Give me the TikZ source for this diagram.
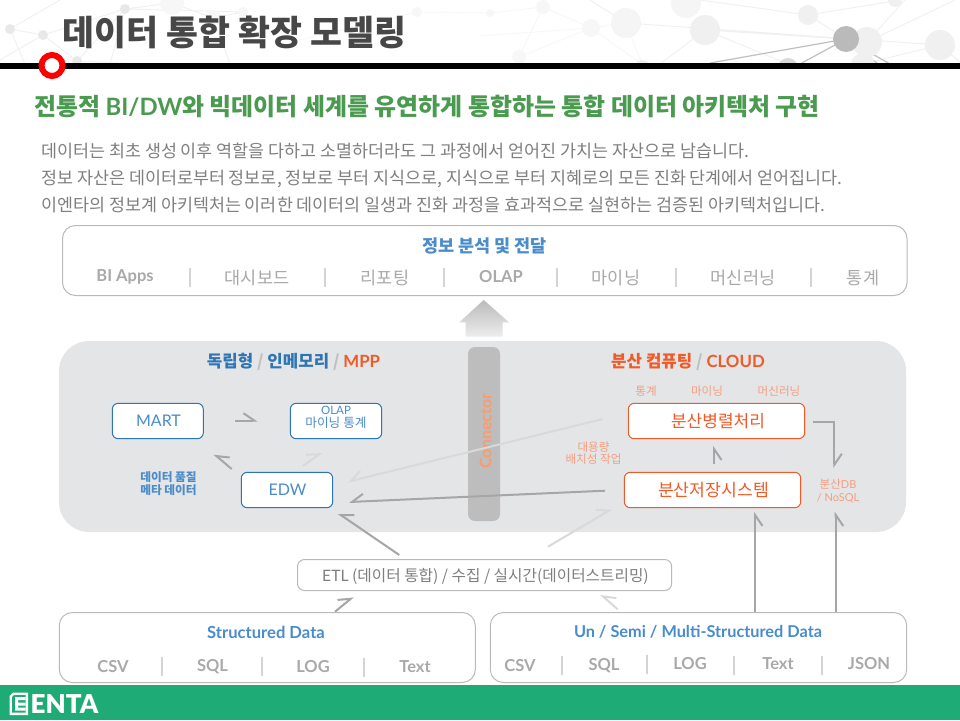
\documentclass[tikz,border=0pt]{standalone}
\usepackage{fontspec}
\setmainfont{Noto Sans CJK KR}
\newfontfamily\lat{Lato}
\newfontfamily\latb{Lato Black}
\usetikzlibrary{arrows.meta,shadings}
\definecolor{blueT}{HTML}{4A8CCB}
\definecolor{blueD}{HTML}{2E75B6}
\definecolor{orgD}{HTML}{F05A28}
\definecolor{orgL}{HTML}{F59E80}
\definecolor{orgC}{HTML}{FA9B70}
\definecolor{grayT}{HTML}{A9A9A9}
\definecolor{grayB}{HTML}{7F7F7F}
\definecolor{panelG}{HTML}{E4E5E7}
\definecolor{arrD}{HTML}{A6A6A6}
\definecolor{arrL}{HTML}{D9D9D9}
\definecolor{greenT}{HTML}{4A9A50}
\definecolor{greenB}{HTML}{1FAB75}
\newcommand{\fs}[1]{\fontsize{#1}{#1}\selectfont}
\tikzset{
  x=1pt,y=-1pt,
  panel/.style={draw=black!27,line width=1pt,rounded corners=13pt,fill=white},
  bluebox/.style={draw=blueD,line width=1pt,rounded corners=6pt,fill=white},
  orgbox/.style={draw=orgD,line width=1pt,rounded corners=6pt,fill=white},
  sep/.style={draw=black!17,line width=2pt},
  lb/.style={inner sep=0pt,anchor=center,align=center},
  item/.style={lb,text=grayT,font=\fs{17.5}},
  itemb/.style={lb,text=grayT,font=\fs{16.5}\lat\bfseries},
  head/.style={lb,text=blueT,font=\fs{17.5}\bfseries},
  small/.style={lb,text=orgL,font=\fs{11.6}},
  body/.style={inner sep=0pt,anchor=base west,text=grayB,font=\fs{17.4}},
  dk/.style={draw=arrD,line width=2pt},
  lt/.style={draw=arrL,line width=2pt},
  tipL/.style={-{Straight Barb[harpoon,length=11pt,width=15pt,line width=2pt]}},
  tipR/.style={-{Straight Barb[harpoon,swap,length=11pt,width=15pt,line width=2pt]}},
  net/.style={draw=black!6,line width=.9pt},
  netd/.style={draw=black!25,line width=1.2pt},
}
\begin{document}
\begin{tikzpicture}
\useasboundingbox (0,0) rectangle (960,720);
\fill[white] (0,0) rectangle (960,720);
% background network
\begin{scope}
\clip (0,0) rectangle (960,64);
\draw[net] (10,29)--(43,35)--(125,9)--(172,3) (43,35)--(77,61)--(125,9) (10,29)--(60,0) (0,60)--(43,35) (10,29)--(25,64) (125,9)--(243,12) (172,3)--(213,18)--(243,12) (77,61)--(140,64) (213,18)--(230,64) (125,9)--(110,64);
\draw[draw=black!3,line width=.8pt] (490,13)--(543,7)--(591,28)--(626,23) (519,57)--(591,28)--(642,64) (480,36)--(591,28) (543,7)--(519,57) (626,23)--(642,64) (300,40)--(417,12)--(490,13);
\draw[net] (626,23)--(940,45) (705,30)--(846,39) (705,30)--(660,64) (705,30)--(788,64) (808,15)--(846,39) (808,15)--(900,0) (867,42)--(905,0) (867,42)--(955,0) (940,45)--(863,64) (940,45)--(960,62) (626,23)--(590,0) (808,15)--(700,0);
\draw[netd] (846,39)--(710,63) (846,39)--(800,64);
\draw[netd] (846,39)--(890,64) (846,39)--(878,64);
\fill[black!9] (10,29) circle (5) (43,35) circle (5) (125,9) circle (5) (77,61) circle (5);
\fill[black!3] (172,3) circle (12) (213,18) circle (8) (243,12) circle (5) (417,12) circle (5) (490,13) circle (4) (543,7) circle (7) (591,28) circle (9) (519,57) circle (7);
\fill[black!4] (626,23) circle (15) (686,3) circle (15);
\fill[black!6] (705,30) circle (15) (808,15) circle (10) (867,42) circle (15) (940,45) circle (15) (863,65) circle (12) (642,68) circle (8) (895,0) circle (7);
\fill[black!15] (788,68) circle (10);
\fill[black!27] (846,39) circle (13);
\end{scope}
% header
\fill[black] (0,63) rectangle (960,69);
\draw[red,line width=6pt,fill=white] (52,65.5) circle (10.5);
\node[lb,text=black!72,font=\fs{34.7}\bfseries] (title) at (234.5,32.5) {데이터 통합 확장 모델링};
\node[lb,text=greenT,font=\fs{23.9}\bfseries] (sub) at (427,106.5) {전통적 {\lat BI/DW}와 빅데이터 세계를 유연하게 통합하는 통합 데이터 아키텍처 구현};
\node[body] (l1) at (41,157) {데이터는 최초 생성 이후 역할을 다하고 소멸하더라도 그 과정에서 얻어진 가치는 자산으로 남습니다.};
\node[body] (l2) at (41,184) {정보 자산은 데이터로부터 정보로, 정보로 부터 지식으로, 지식으로 부터 지혜로의 모든 진화 단계에서 얻어집니다.};
\node[body] (l3) at (41,211) {이엔타의 정보계 아키텍처는 이러한 데이터의 일생과 진화 과정을 효과적으로 실현하는 검증된 아키텍처입니다.};
% top panel
\draw[panel] (62.5,225.5) rectangle (907,295.5);
\node[head] (thead) at (484.5,246) {정보 분석 및 전달};
\node[itemb] (ti1) at (125,277) {BI Apps};
\node[item] (ti2) at (257,277.5) {대시보드};
\node[item] (ti3) at (385,277.5) {리포팅};
\node[itemb] (ti4) at (501,277) {OLAP};
\node[item] (ti5) at (616,277.5) {마이닝};
\node[item] (ti6) at (743,277.5) {머신러닝};
\node[item] (ti7) at (863,277.5) {통계};
\foreach \x in {190,325,444,557.3,676,810.7} \draw[sep] (\x,268)--(\x,287);
% up arrow
\shade[top color=black!27,bottom color=black!7] (483.7,300)--(509,322.3)--(502.7,322.3)--(502.7,336.7)--(465.7,336.7)--(465.7,322.3)--(459.3,322.3)--cycle;
% grey panel
\fill[panelG,rounded corners=30pt] (59,341) rectangle (906,532);
\fill[black!26,rounded corners=7pt] (468,347) rectangle (500,521);
\node[lb,rotate=90,text=orgC,font=\fs{16}\lat\bfseries] (conn) at (485.5,431) {Connector};
\node[lb,font=\fs{16.8}\bfseries,text=blueD] (h1) at (293.5,361.5) {독립형 {\color{black!25}/} 인메모리 {\color{black!25}/} {\color{orgD}\lat\bfseries MPP}};
\node[lb,font=\fs{16.8}\bfseries,text=orgD] (h2) at (688,361.5) {분산 컴퓨팅 {\color{black!25}/} {\lat\bfseries CLOUD}};
% boxes
\draw[bluebox] (112.3,403.3) rectangle (203.3,438.7);
\node[lb,text=blueT,font=\fs{16}\lat] (mart) at (158.5,421) {MART};
\draw[bluebox] (290.3,403.3) rectangle (381.7,438.7);
\node[lb,text=blueT,font=\fs{12.7}] (olap) at (336,417) {{\fs{11.5}\lat OLAP}\\[0.5pt]마이닝 통계};
\draw[bluebox] (241.3,472.3) rectangle (332.7,507.7);
\node[lb,text=blueT,font=\fs{16}\lat] (edw) at (287.5,490) {EDW};
\node[lb,text=blueT,font=\fs{11.7}\bfseries] (dq) at (168.5,483.5) {데이터 품질\\[1pt]메타 데이터};
\draw[orgbox] (628.3,403.3) rectangle (804.7,438.7);
\node[lb,text=orgD,font=\fs{17}] (par) at (718,421.5) {분산병렬처리};
\draw[orgbox] (624.3,472.3) rectangle (800.7,507.7);
\node[lb,text=orgD,font=\fs{17.2}] (sto) at (713.5,490.5) {분산저장시스템};
\node[small] (s1) at (646,391) {통계};
\node[small] (s2) at (707,391) {마이닝};
\node[small] (s3) at (779,391) {머신러닝};
\node[small] (s4) at (593.5,453) {대용량\\[1pt]배치성 작업};
\node[lb,text=orgL,font=\fs{11}] (ndb) at (838,491) {{\fs{11.6}분산}{\lat DB}\\[2pt]{\lat / NoSQL}};
% ETL
\draw[panel,rounded corners=7pt] (297.5,559.5) rectangle (671.7,590.5);
\node[lb,text=grayB,font=\fs{15.7}] (etl) at (485.5,576) {{\lat ETL} (데이터 통합) / 수집 / 실시간(데이터스트리밍)};
% bottom panels
\draw[panel] (59.3,612.5) rectangle (475.3,682.5);
\draw[panel] (490.3,612.5) rectangle (906.7,682.5);
\node[head,font=\fs{16.6}\lat\bfseries] (sd) at (266,632) {Structured Data};
\node[head,font=\fs{16.3}\lat\bfseries] (ud) at (698,632) {Un / Semi / Multi-Structured Data};
\node[itemb] (a1) at (113,667) {CSV};
\node[itemb] (a2) at (212.5,667) {SQL};
\node[itemb] (a3) at (313,667) {LOG};
\node[itemb] (a4) at (415,667) {Text};
\node[itemb] (b1) at (520,666) {CSV};
\node[itemb] (b2) at (604,666) {SQL};
\node[itemb] (b3) at (690,664) {LOG};
\node[itemb] (b4) at (778,664) {Text};
\node[itemb] (b5) at (869,664) {JSON};
\draw[sep] (162,657)--(162,676) (262,657)--(262,676) (364,658)--(364,677);
\draw[sep] (562,656)--(562,675) (647,655)--(647,674) (734,656)--(734,675) (822,656)--(822,675);
% connector end points
\coordinate (m1) at (235,420.7); \coordinate (m2) at (257.7,420.7);
\coordinate (e1) at (231.7,469); \coordinate (e2) at (214,454);
\coordinate (e3) at (303,466); \coordinate (e4) at (321.7,452.3);
\coordinate (p1) at (602.7,419); \coordinate (e5) at (348,481.7);
\coordinate (t1) at (605,490.7); \coordinate (e6) at (349,502);
\coordinate (x1) at (399.3,555); \coordinate (e7) at (338.3,513.3);
\coordinate (x2) at (548,546.7); \coordinate (t2) at (611.7,509);
\coordinate (t3) at (714,464); \coordinate (p2) at (714,445.7);
\coordinate (p3) at (813,421.7); \coordinate (n1) at (834.3,421.7); \coordinate (n2) at (834.3,468);
\coordinate (u1) at (755,612); \coordinate (t4) at (755,511.7);
\coordinate (u2) at (835.7,612); \coordinate (n3) at (835.7,511.7);
\coordinate (q1) at (335,611.7); \coordinate (x3) at (353.3,596.7);
\coordinate (u3) at (617.7,609.3); \coordinate (x4) at (600.7,594.3);
% connectors
\draw[dk,tipL] (m1)--(m2);
\draw[dk,tipR] (e1)--(e2);
\draw[lt,tipL] (e3)--(e4);
\draw[lt,tipR] (p1)--(e5);
\draw[dk,tipR] (t1)--(e6);
\draw[dk,tipR] (x1)--(e7);
\draw[lt,tipL] (x2)--(t2);
\draw[dk,tipR] (t3)--(p2);
\draw[dk,tipL] (p3)--(n1)--(n2);
\draw[dk,tipR] (u1)--(t4);
\draw[dk,tipR] (u2)--(n3);
\draw[dk,tipL] (q1)--(x3);
\draw[lt,tipR] (u3)--(x4);
% footer
\fill[greenB] (0,685) rectangle (960,720);
\fill[white] (13,692.7)--(28,692.7)--(28,715)--(9.5,715)--(9.5,696)--cycle;
\fill[greenB] (14,695)--(25.5,695)--(25.5,712.5)--(12,712.5)--(12,697)--cycle;
\fill[white] (15,697)--(25.5,697)--(25.5,700)--(18,700)--(18,702.5)--(25.5,702.5)--(25.5,705.5)--(18,705.5)--(18,707.5)--(25.5,707.5)--(25.5,710.5)--(15,710.5)--cycle;
\node[lb,anchor=west,text=white,font=\fs{26}\latb] (logo) at (30.5,704) {ENTA};
\end{tikzpicture}
\end{document}
